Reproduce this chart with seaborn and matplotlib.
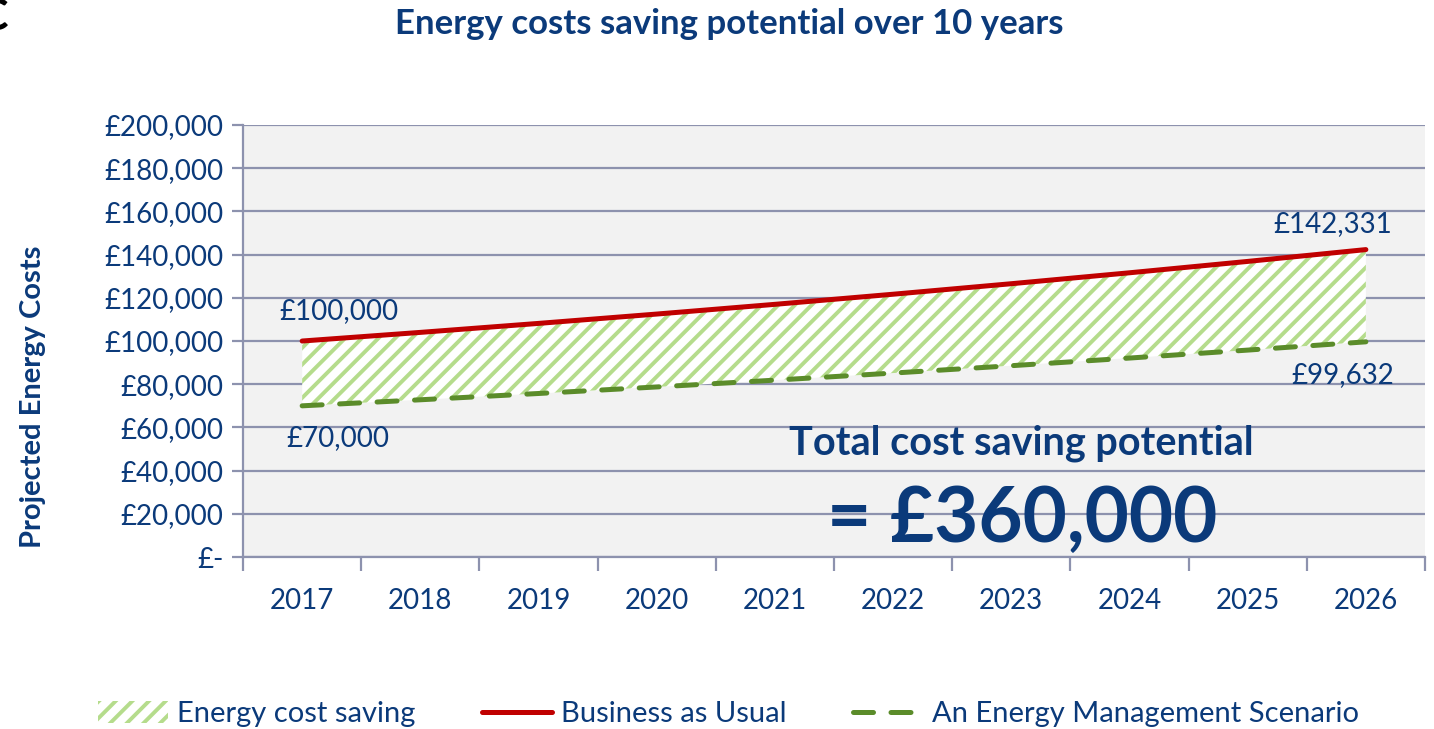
import matplotlib
matplotlib.use('Agg')
import matplotlib.pyplot as plt
import seaborn as sns
import pandas as pd
from matplotlib.patches import Patch
from matplotlib.lines import Line2D
from matplotlib.ticker import FuncFormatter

years = [2017, 2018, 2019, 2020, 2021, 2022, 2023, 2024, 2025, 2026]
business_as_usual = [100000, 104000, 108160, 112486, 116986, 121665, 126532, 131593, 136857, 142331]
energy_management = [70000, 72800, 75712, 78740, 81890, 85166, 88572, 92115, 95800, 99632]
end_labels = ['£100,000', '£142,331', '£70,000', '£99,632']

navy = '#0B3A7A'
red = '#C00000'
green = '#5B8C2A'
hatch_green = '#B5DC8C'
grid_col = '#8D92AE'

sns.set_style('white')
plt.rcParams['font.family'] = ['Lato', 'DejaVu Sans']
plt.rcParams['hatch.linewidth'] = 2.8

df = pd.DataFrame({'year': years, 'bau': business_as_usual, 'ems': energy_management})

fig = plt.figure(figsize=(14.34, 7.29), dpi=100)
ax = fig.add_axes([0.1695, 0.2359, 0.8242, 0.5926])
ax.set_facecolor('#F2F2F2')

ax.fill_between(df['year'], df['ems'], df['bau'], facecolor='white',
                edgecolor=hatch_green, hatch='//', linewidth=0, zorder=2)
sns.lineplot(data=df, x='year', y='bau', ax=ax, color=red, linewidth=3.6,
             solid_capstyle='round', zorder=4)
sns.lineplot(data=df, x='year', y='ems', ax=ax, color=green, linewidth=3.6,
             dashes=False, zorder=4)
ax.lines[-1].set_linestyle((0, (4, 3.5)))
ax.lines[-1].set_dash_capstyle('round')

ax.set_xlim(2016.5, 2026.5)
ax.set_ylim(0, 200000)
ax.set_yticks(range(0, 200001, 20000))
ax.yaxis.set_major_formatter(FuncFormatter(lambda v, p: '£-' if v == 0 else f'£{int(v):,}'))
ax.grid(axis='y', color=grid_col, linewidth=1.6, zorder=1)
ax.set_axisbelow(True)

ax.set_xticks([y - 0.5 for y in years] + [2026.5])
ax.set_xticklabels([])
ax.set_xticks(years, minor=True)
ax.set_xticklabels([str(y) for y in years], minor=True)
ax.tick_params(axis='x', which='major', length=10, width=1.6, color=grid_col, direction='out')
ax.tick_params(axis='x', which='minor', length=0, pad=22, labelsize=20, labelcolor=navy)
ax.tick_params(axis='y', length=8, width=1.6, color=grid_col, labelsize=20, labelcolor=navy, pad=6)
ax.xaxis.set_ticks_position('bottom')
ax.yaxis.set_ticks_position('left')

for s in ['top', 'right']:
    ax.spines[s].set_visible(False)
for s in ['left', 'bottom']:
    ax.spines[s].set_color(grid_col)
    ax.spines[s].set_linewidth(1.6)

ax.set_xlabel('')
ax.set_ylabel('')

label_kw = dict(textcoords='offset pixels', ha='center', va='center', color=navy, fontsize=20)
ax.annotate(end_labels[0], (years[0], business_as_usual[0]), xytext=(37, 30), **label_kw)
ax.annotate(end_labels[1], (years[-1], business_as_usual[-1]), xytext=(-33, 26), **label_kw)
ax.annotate(end_labels[2], (years[0], energy_management[0]), xytext=(36, -32), **label_kw)
ax.annotate(end_labels[3], (years[-1], energy_management[-1]), xytext=(-23, -33), **label_kw)

fig.text(1021 / 1434, 1 - 443 / 729, 'Total cost saving potential', ha='center', va='center',
         fontsize=28.5, fontweight='bold', color=navy)
fig.text(1022 / 1434, 1 - 520 / 729, '= £360,000', ha='center', va='center',
         fontsize=55, fontweight='bold', color=navy)

fig.suptitle('Energy costs saving potential over 10 years', x=729 / 1434, y=1 - 24 / 729,
             va='center', fontsize=25, fontweight='bold', color=navy)
# panel letter, cut by the left edge as in the source image
fig.text(-22 / 1434, 1 - 17 / 729, 'C', fontsize=32, fontweight='bold', color='black',
         ha='left', va='center')
fig.text(33 / 1434, 1 - 397 / 729, 'Projected Energy Costs', rotation=90, ha='center',
         va='center', fontsize=21, fontweight='bold', color=navy)

handles = [
    Patch(facecolor='white', edgecolor=hatch_green, hatch='//', linewidth=0),
    Line2D([], [], color=red, linewidth=3.6, solid_capstyle='round'),
    Line2D([], [], color=green, linewidth=3.6, linestyle=(0, (4, 3.5)), dash_capstyle='round'),
]
labels = ['Energy cost saving', 'Business as Usual', 'An Energy Management Scenario']
fig.legend(handles, labels, loc='center', bbox_to_anchor=(0.508, 1 - 714 / 729), ncol=3,
           frameon=False, fontsize=21, labelcolor=navy, handlelength=2.4,
           handletextpad=0.3, columnspacing=2.3, handleheight=0.8)

fig.savefig('out.png', dpi=100)
